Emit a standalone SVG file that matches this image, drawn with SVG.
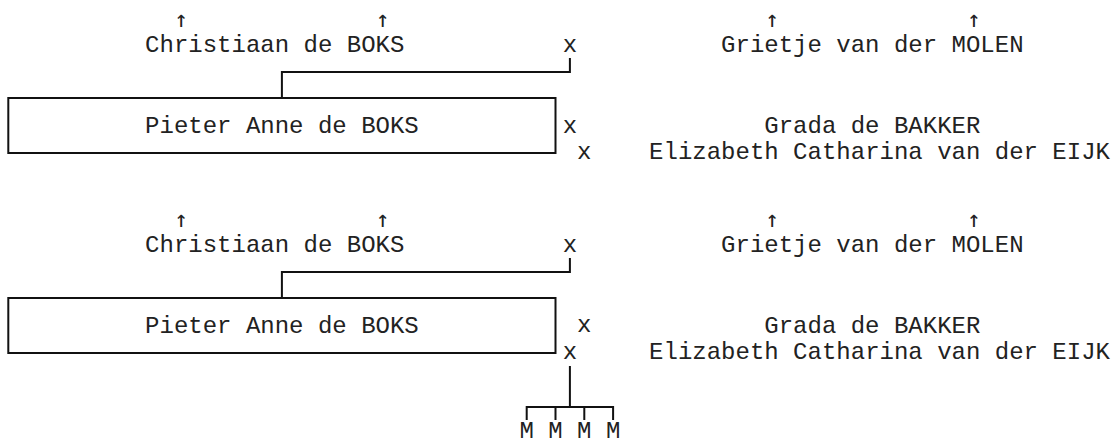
<svg xmlns="http://www.w3.org/2000/svg" width="1112" height="443" viewBox="0 0 1112 443">
<style>
text{font-family:"Liberation Mono","Courier New",monospace;font-size:24px;fill:#222}
.ar{font-family:"DejaVu Sans Mono","Liberation Mono",monospace;font-size:23px;fill:#222}
.ln{fill:none;stroke:#111;stroke-width:2}
</style>
<rect width="1112" height="443" fill="#fff"/>
<g id="top-section">
<g id="christiaan1"><text class="ar" x="181.1" y="27" text-anchor="middle">↑</text><text class="ar" x="382.7" y="27" text-anchor="middle">↑</text><text x="145.1" y="52">Christiaan de BOKS</text></g>
<g id="x1a"><text x="562.7" y="52">x</text></g>
<g id="grietje1"><text class="ar" x="772.3" y="27" text-anchor="middle">↑</text><text class="ar" x="973.9" y="27" text-anchor="middle">↑</text><text x="721.1" y="52">Grietje van der MOLEN</text></g>
<g id="pieter1"><rect class="ln" x="8.3" y="98" width="547.2" height="55"/><text x="145.1" y="133">Pieter Anne de BOKS</text></g>
<g id="x1b"><text x="562.7" y="133">x</text></g>
<g id="grada1"><text x="764.3" y="133">Grada de BAKKER</text></g>
<g id="x1c"><text x="577.1" y="159">x</text></g>
<g id="elizabeth1"><text x="649.1" y="159">Elizabeth Catharina van der EIJK</text></g>
</g>
<g id="bottom-section">
<g id="christiaan2"><text class="ar" x="181.1" y="227" text-anchor="middle">↑</text><text class="ar" x="382.7" y="227" text-anchor="middle">↑</text><text x="145.1" y="252">Christiaan de BOKS</text></g>
<g id="x2a"><text x="562.7" y="252">x</text></g>
<g id="grietje2"><text class="ar" x="772.3" y="227" text-anchor="middle">↑</text><text class="ar" x="973.9" y="227" text-anchor="middle">↑</text><text x="721.1" y="252">Grietje van der MOLEN</text></g>
<g id="pieter2"><rect class="ln" x="8.3" y="298" width="547.2" height="55"/><text x="145.1" y="333">Pieter Anne de BOKS</text></g>
<g id="x2b"><text x="577.1" y="332">x</text></g>
<g id="grada2"><text x="764.3" y="333">Grada de BAKKER</text></g>
<g id="x2c"><text x="562.7" y="359">x</text></g>
<g id="elizabeth2"><text x="649.1" y="359">Elizabeth Catharina van der EIJK</text></g>
<g id="children"><text x="526.7" y="438" text-anchor="middle">M</text><text x="555.5" y="438" text-anchor="middle">M</text><text x="584.3" y="438" text-anchor="middle">M</text><text x="613.1" y="438" text-anchor="middle">M</text></g>
</g>
<g id="connectors">
<path class="ln" d="M569.9 58V72H281.9V98"/>
<path class="ln" d="M569.9 258V272H281.9V298"/>
<path class="ln" d="M569.9 366V407"/>
<path class="ln" d="M526.7 420V407H613.1V420M555.5 407V420M584.3 407V420"/>
</g>
</svg>
